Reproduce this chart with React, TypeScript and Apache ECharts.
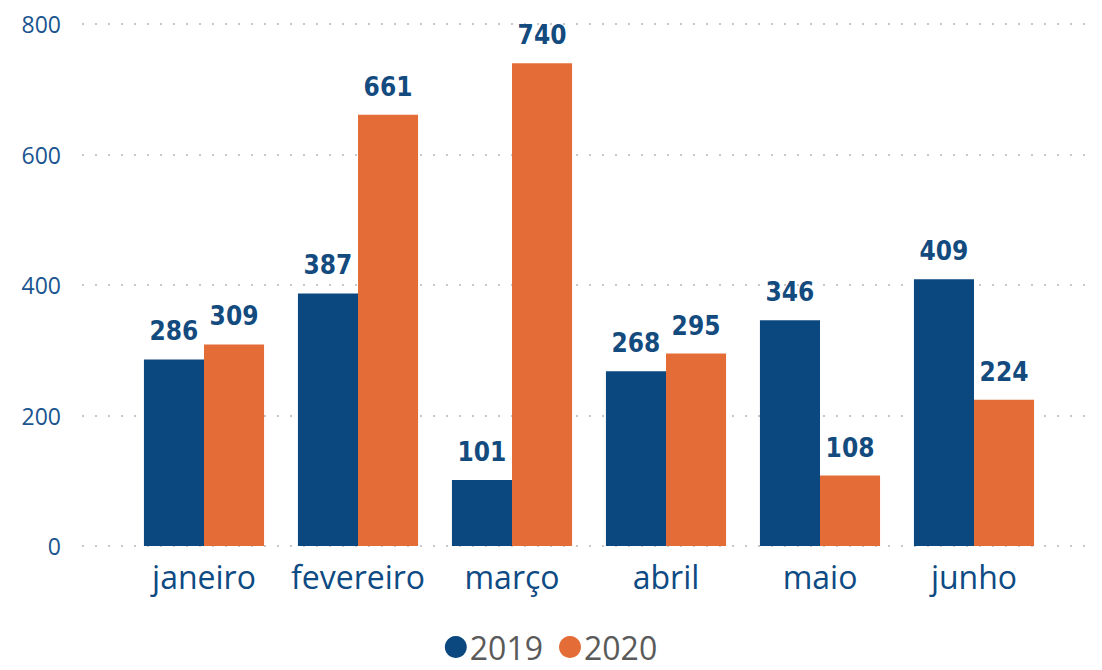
import React, { useEffect, useRef } from "react";
import * as echarts from "echarts";

const categories = ["janeiro", "fevereiro", "março", "abril", "maio", "junho"];
const values2019 = [286, 387, 101, 268, 346, 409];
const values2020 = [309, 661, 740, 295, 108, 224];
const yTicks = { min: 0, max: 800, interval: 200 };

const BLUE = "#0c4880";
const ORANGE = "#e46c37";

export default function App() {
  const ref = useRef<HTMLDivElement>(null);
  useEffect(() => {
    if (!ref.current) return;
    const chart = echarts.init(ref.current, null, { renderer: "svg" });
    const labelStyle = {
      show: true,
      position: "top" as const,
      distance: 15,
      color: "#134b7f",
      fontFamily: "DejaVu Sans Condensed, DejaVu Sans, sans-serif",
      fontWeight: "bold" as const,
      fontSize: 26,
    };
    chart.setOption({
      animation: false,
      grid: [
        { left: 82, right: 10, top: 24, bottom: 124 },
        { left: 127, right: 51, top: 24, bottom: 124 },
      ],
      legend: {
        bottom: 2,
        left: "center",
        icon: "circle",
        itemWidth: 22,
        itemHeight: 22,
        itemGap: 16,
        textStyle: { fontFamily: "Open Sans", fontSize: 32, color: "#5a5a5a", padding: [0, 0, 0, -2] },
        data: ["2019", "2020"],
      },
      xAxis: [
        { type: "value", gridIndex: 0, show: false, min: 0, max: 1 },
        {
          type: "category",
          gridIndex: 1,
          data: categories,
          axisLine: { show: false },
          axisTick: { show: false },
          axisLabel: {
            interval: 0,
            hideOverlap: false,
            fontFamily: "Open Sans",
            fontSize: 32,
            color: "#0e4a83",
            margin: 14,
          },
        },
      ],
      yAxis: [
        {
          type: "value",
          gridIndex: 0,
          min: yTicks.min,
          max: yTicks.max,
          interval: yTicks.interval,
          axisLine: { show: false },
          axisTick: { show: false },
          axisLabel: { fontFamily: "Open Sans", fontSize: 23, color: "#1a5590", margin: 21 },
          splitLine: { show: true, lineStyle: { color: "#c8c8c8", width: 2, type: [2, 11] } },
        },
        {
          type: "value",
          gridIndex: 1,
          min: yTicks.min,
          max: yTicks.max,
          interval: yTicks.interval,
          show: false,
          splitLine: { show: false },
        },
      ],
      series: [
        {
          name: "2019",
          type: "bar",
          xAxisIndex: 1,
          yAxisIndex: 1,
          data: values2019,
          itemStyle: { color: BLUE },
          barGap: "0%",
          barCategoryGap: "22%",
          label: labelStyle,
        },
        {
          name: "2020",
          type: "bar",
          xAxisIndex: 1,
          yAxisIndex: 1,
          data: values2020,
          itemStyle: { color: ORANGE },
          barGap: "0%",
          barCategoryGap: "22%",
          label: labelStyle,
        },
      ],
    });
    return () => chart.dispose();
  }, []);
  return <div ref={ref} style={{ width: 1102, height: 670, position: "absolute", left: 0, top: 0 }} />;
}
